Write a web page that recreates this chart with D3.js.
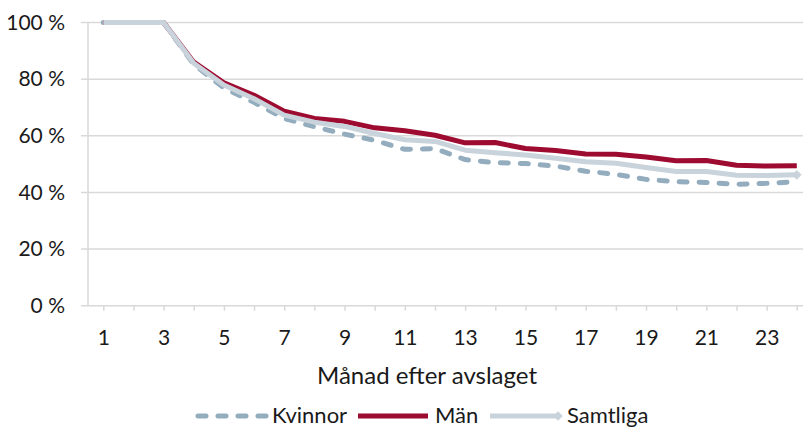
<!DOCTYPE html>
<html>
<head>
<meta charset="utf-8">
<script src="https://cdn.jsdelivr.net/npm/d3@7"></script>
<style>
  body { margin: 0; background: #fff; }
  svg text { font-family: Lato, "Open Sans", sans-serif; fill: #1a1a1a; }
</style>
</head>
<body>
<svg id="chart" width="803" height="429"></svg>
<script>
var months = d3.range(1, 25);
var yTicks = [0, 20, 40, 60, 80, 100];

var kvinnor = [100, 100, 100, 85.2, 76.9, 71.8, 66.1, 63.2, 60.6, 58.4, 55.2, 55.5, 51.6, 50.5, 50.2, 49.3, 47.5, 46.4, 44.6, 43.8, 43.5, 42.9, 43.2, 43.8];
var man     = [100, 100, 100, 86.0, 78.7, 74.3, 68.7, 66.1, 65.1, 62.8, 61.8, 60.2, 57.5, 57.6, 55.5, 54.8, 53.6, 53.5, 52.5, 51.2, 51.3, 49.6, 49.3, 49.4];
var samtliga = [100, 100, 100, 85.6, 77.9, 73.1, 67.3, 64.8, 63.3, 60.8, 58.6, 58.0, 54.9, 54.0, 53.2, 52.1, 50.8, 50.3, 48.8, 47.4, 47.4, 46.1, 46.0, 46.2];

var series = [
    {name: "Kvinnor", values: kvinnor, color: "#94adbe", dash: "8,12"},
    {name: "Män", values: man, color: "#9e0b31", dash: null},
    {name: "Samtliga", values: samtliga, color: "#c9d3dc", dash: null, marker: true}
];

var canvas = d3.select("#chart");

var x = d3.scaleLinear().domain([1, 24]).range([103.3, 796.8]);
var y = d3.scaleLinear().domain([0, 100]).range([305.7, 22.5]);
var plotLeft = 88, plotRight = 812;

// diamond line end for Samtliga
canvas.append("defs").append("marker")
    .attr("id", "diamond")
    .attr("viewBox", "-5 -5 10 10")
    .attr("markerWidth", 2.4)
    .attr("markerHeight", 2.4)
    .attr("orient", "auto")
    .append("path")
    .attr("d", "M-4,0L0,-4L4,0L0,4Z")
    .attr("fill", "#c9d3dc");

// gridlines
canvas.append("g")
    .selectAll("line")
    .data(yTicks)
    .enter()
    .append("line")
    .attr("x1", plotLeft - 7)
    .attr("x2", plotRight)
    .attr("y1", function(d) { return y(d); })
    .attr("y2", function(d) { return y(d); })
    .attr("stroke", "#d9d9d9")
    .attr("stroke-width", 1.5);

// y axis line
canvas.append("line")
    .attr("x1", plotLeft).attr("x2", plotLeft)
    .attr("y1", y(100)).attr("y2", y(0))
    .attr("stroke", "#d9d9d9")
    .attr("stroke-width", 1.5);

var yAxis = d3.axisLeft(y)
    .tickValues(yTicks)
    .tickSize(0)
    .tickPadding(0)
    .tickFormat(function(d) { return d + " %"; });

var gy = canvas.append("g")
    .attr("transform", "translate(65,0)")
    .call(yAxis);
gy.select(".domain").remove();
gy.selectAll("text")
    .style("font-size", "21px")
    .attr("fill", "#1a1a1a");

var xAxis = d3.axisBottom(x)
    .tickValues(months)
    .tickSize(5)
    .tickPadding(19)
    .tickFormat(function(d) { return d % 2 === 1 ? d : ""; });

var gx = canvas.append("g")
    .attr("transform", "translate(0," + y(0) + ")")
    .call(xAxis);
gx.select(".domain").remove();
gx.selectAll(".tick line")
    .attr("stroke", "#d9d9d9")
    .attr("stroke-width", 1.5);
gx.selectAll("text")
    .style("font-size", "21px")
    .attr("fill", "#1a1a1a");

canvas.append("text")
    .attr("x", 427)
    .attr("y", 384)
    .attr("text-anchor", "middle")
    .style("font-size", "24px")
    .text("Månad efter avslaget");

var line = d3.line()
    .x(function(d, i) { return x(months[i]); })
    .y(function(d) { return y(d); });

series.forEach(function(s) {
    var p = canvas.append("path")
        .datum(s.values)
        .attr("fill", "none")
        .attr("stroke", s.color)
        .attr("stroke-width", 5)
        .attr("stroke-linejoin", "round")
        .attr("d", line);
    if (s.dash) {
        p.attr("stroke-dasharray", s.dash).attr("stroke-linecap", "round");
    }
    if (s.marker) {
        p.attr("marker-end", "url(#diamond)");
    }
});

// legend
var legendItems = [
    {s: series[0], x1: 198, x2: 266, tx: 272},
    {s: series[1], x1: 358, x2: 428, tx: 435},
    {s: series[2], x1: 490, x2: 558, tx: 567}
];
var legendY = 416;

legendItems.forEach(function(l) {
    var ln = canvas.append("line")
        .attr("x1", l.x1).attr("x2", l.x2)
        .attr("y1", legendY).attr("y2", legendY)
        .attr("stroke", l.s.color)
        .attr("stroke-width", 5);
    if (l.s.dash) {
        ln.attr("stroke-dasharray", l.s.dash).attr("stroke-linecap", "round");
    }
    if (l.s.marker) {
        ln.attr("marker-end", "url(#diamond)");
    }
    canvas.append("text")
        .attr("x", l.tx)
        .attr("y", legendY)
        .attr("dy", "0.32em")
        .style("font-size", "22px")
        .text(l.s.name);
});
</script>
</body>
</html>
